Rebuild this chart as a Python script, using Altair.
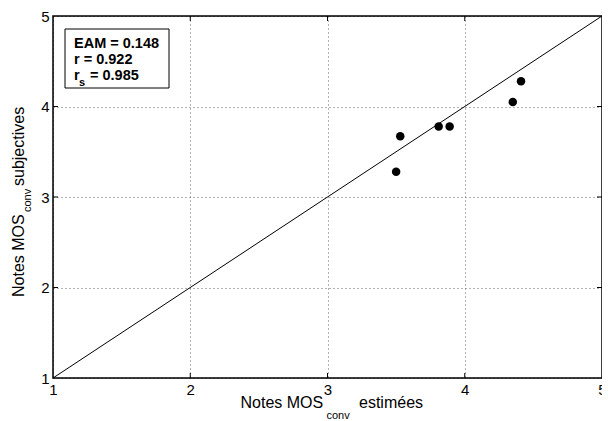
import altair as alt
import pandas as pd

# ---- data ----
mos_estimees = [3.50, 3.53, 3.81, 3.89, 4.35, 4.41]
mos_subjectives = [3.28, 3.67, 3.78, 3.78, 4.05, 4.28]
diag_x = [1, 5]
diag_y = [1, 5]
tick_values = [1, 2, 3, 4, 5]
inner_ticks = [2, 3, 4]
stats_lines = ["EAM = 0.148", "r = 0.922"]
rs_label = ["r", "s", "= 0.985"]
xtitle = ["Notes MOS", "conv", "estimées"]
ytitle = ["Notes MOS", "conv", "subjectives"]

W, H = 549, 362
FONT = "Liberation Sans"

pts = pd.DataFrame({"x": mos_estimees, "y": mos_subjectives})
diag = pd.DataFrame({"x": diag_x, "y": diag_y})
ticks = pd.DataFrame({"v": inner_ticks})
one = pd.DataFrame({"k": [0]})

xs = alt.Scale(domain=[1, 5], nice=False, zero=False)
ys = alt.Scale(domain=[1, 5], nice=False, zero=False)

xaxis = alt.Axis(values=tick_values, format="d", title=None, domain=False, ticks=False,
                 grid=True, gridDash=[1, 3], gridColor="#666666", gridWidth=1,
                 labelFontSize=15, labelColor="black", labelPadding=4, labelFlush=False,
                 labelFont=FONT)
yaxis = alt.Axis(values=tick_values, format="d", title=None, domain=False, ticks=False,
                 grid=True, gridDash=[1, 3], gridColor="#666666", gridWidth=1,
                 labelFontSize=15, labelColor="black", labelPadding=4, labelFont=FONT)

base_grid = alt.Chart(diag).mark_line(opacity=0).encode(
    x=alt.X("x:Q", scale=xs, axis=xaxis),
    y=alt.Y("y:Q", scale=ys, axis=yaxis),
)

diag_line = alt.Chart(diag).mark_line(color="black", strokeWidth=1).encode(
    x=alt.X("x:Q", scale=xs), y=alt.Y("y:Q", scale=ys)
)

points = alt.Chart(pts).mark_circle(color="black", opacity=1, size=72).encode(
    x=alt.X("x:Q", scale=xs), y=alt.Y("y:Q", scale=ys)
)

TL = 5
tick_bottom = alt.Chart(ticks).mark_rule(color="black", strokeWidth=1).encode(
    x=alt.X("v:Q", scale=xs), y=alt.value(H), y2=alt.value(H - TL))
tick_top = alt.Chart(ticks).mark_rule(color="black", strokeWidth=1).encode(
    x=alt.X("v:Q", scale=xs), y=alt.value(0), y2=alt.value(TL))
tick_left = alt.Chart(ticks).mark_rule(color="black", strokeWidth=1).encode(
    y=alt.Y("v:Q", scale=ys), x=alt.value(0), x2=alt.value(TL))
tick_right = alt.Chart(ticks).mark_rule(color="black", strokeWidth=1).encode(
    y=alt.Y("v:Q", scale=ys), x=alt.value(W), x2=alt.value(W - TL))

frame = alt.Chart(one).mark_rect(fill=None, stroke="black", strokeWidth=1.5).encode(
    x=alt.value(0), x2=alt.value(W), y=alt.value(0), y2=alt.value(H))

# stats box
box = alt.Chart(one).mark_rect(fill="white", stroke="black", strokeWidth=1).encode(
    x=alt.value(12), x2=alt.value(116), y=alt.value(13), y2=alt.value(72))

def txt(s, x, y, size=14.5, bold=True, angle=0):
    kw = dict(align="left", baseline="alphabetic", fontSize=size, font=FONT, color="black")
    if bold:
        kw["fontWeight"] = "bold"
    if angle:
        kw["angle"] = angle
    return alt.Chart(one).mark_text(**kw).encode(
        x=alt.value(x), y=alt.value(y), text=alt.value(s))

stats = [
    txt(stats_lines[0], 21, 32),
    txt(stats_lines[1], 21, 48),
    txt(rs_label[0], 21, 64),
    txt(rs_label[1], 26, 70, size=11),
    txt(rs_label[2], 37, 64),
]

xt = [
    txt(xtitle[0], 187.5, 392, size=16, bold=False),
    txt(xtitle[1], 273.5, 403, size=11, bold=False),
    txt(xtitle[2], 306, 392, size=16, bold=False),
]
yt = [
    txt(ytitle[0], -29.5, 281, size=16, bold=False, angle=270),
    txt(ytitle[1], -22.5, 196, size=11, bold=False, angle=270),
    txt(ytitle[2], -29.5, 170, size=16, bold=False, angle=270),
]

chart = alt.layer(
    base_grid, diag_line, points,
    tick_bottom, tick_top, tick_left, tick_right,
    frame, box, *stats, *xt, *yt
).properties(
    width=W, height=H,
    autosize=alt.AutoSizeParams(type="none"),
    padding={"left": 45, "top": 8, "right": 0, "bottom": 43},
).configure_view(stroke=None).configure(background="white")

chart.save("out.html", embed_options={"renderer": "svg", "actions": False})
